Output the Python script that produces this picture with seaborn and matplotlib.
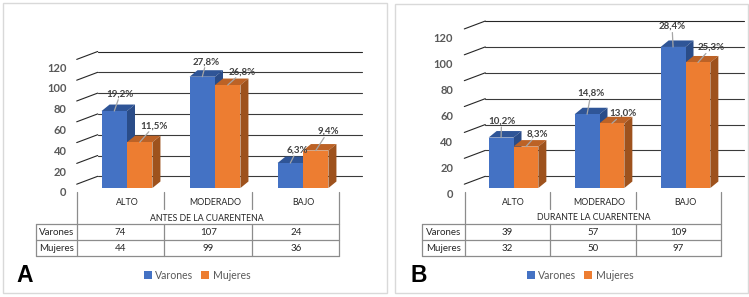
import numpy as np
import pandas as pd
import seaborn as sns
import matplotlib
matplotlib.use("Agg")
import matplotlib.pyplot as plt
from matplotlib.patches import Polygon, Rectangle
from matplotlib.transforms import ScaledTranslation

categories = ["ALTO", "MODERADO", "BAJO"]
series_names = ["Varones", "Mujeres"]
a_varones = [74, 107, 24]
a_mujeres = [44, 99, 36]
a_pct_varones = ["19,2%", "27,8%", "6,3%"]
a_pct_mujeres = ["11,5%", "26,8%", "9,4%"]
a_title = "ANTES DE LA CUARENTENA"
b_varones = [39, 57, 109]
b_mujeres = [32, 50, 97]
b_pct_varones = ["10,2%", "14,8%", "28,4%"]
b_pct_mujeres = ["8,3%", "13,0%", "25,3%"]
b_title = "DURANTE LA CUARENTENA"
y_ticks = [0, 20, 40, 60, 80, 100, 120]

W, H = 749, 297
FONT = "Lato"
sns.set_theme(style="white")
plt.rcParams["font.family"] = [FONT, "DejaVu Sans"]
fig = plt.figure(figsize=(W / 100, H / 100), dpi=100, facecolor="white")
ov = fig.add_axes([0, 0, 1, 1], zorder=0)
ov.set_xlim(0, W); ov.set_ylim(H, 0); ov.axis("off")
top = fig.add_axes([0, 0, 1, 1], zorder=5)
top.set_xlim(0, W); top.set_ylim(H, 0); top.axis("off"); top.patch.set_alpha(0)

BLUE, ORANGE = "#4472C4", "#ED7D31"
SHADE = {0: ("#2F5597", "#2A4C88"), 1: ("#BC6226", "#9E521D")}
LINE = "#8C8C8C"
TXT = "#404040"


def panel(letter, lx, frame, x0, spacing, scale, line_x0, line_dx, back_end, cols,
          tbl_left, title, title_xy, varones, mujeres, pv, pm, offs, leg_x, tick_shift):
    ybase = 188.0
    ax_top = 4.0
    ymax = (ybase - ax_top) / scale
    ax = fig.add_axes([x0 / W, 1 - ybase / H, 3 * spacing / W, (ybase - ax_top) / H], zorder=2)
    ax.patch.set_alpha(0)
    df = pd.DataFrame({
        "nivel": categories * 2,
        "n": list(varones) + list(mujeres),
        "sexo": [series_names[0]] * 3 + [series_names[1]] * 3,
    })
    sns.barplot(data=df, x="nivel", y="n", hue="sexo", order=categories, hue_order=series_names,
                palette=[BLUE, ORANGE], saturation=1, width=0.578, gap=0, ax=ax, legend=False,
                zorder=3, linewidth=0, err_kws={"linewidth": 0})
    ax.set_xlim(-0.5, 2.5); ax.set_ylim(0, ymax)
    ax.set_xlabel(""); ax.set_ylabel("")
    sns.despine(ax=ax, left=True, bottom=True)

    px_x = lambda d: d / spacing
    px_y = lambda d: d / scale
    # frame
    fx0, fy0, fx1, fy1 = frame
    ov.add_patch(Rectangle((fx0, fy0), fx1 - fx0, fy1 - fy0, fc="white", ec="#D9D9D9", lw=1))

    # perspective grid
    fx = (line_x0 - x0) / spacing - 0.5
    bx = fx + px_x(line_dx)
    ex = (back_end - x0) / spacing - 0.5
    front_y = -px_y(ybase - 191.8)
    back_y = px_y(ybase - 176.3)
    for v in y_ticks:
        ax.plot([fx, bx], [front_y + v, back_y + v], color="#262626", lw=0.8, zorder=1, clip_on=False)
        ax.plot([bx, ex], [back_y + v, back_y + v], color="#262626" if v == 120 else "#3A3A3A",
                lw=0.8, zorder=1, clip_on=False)

    # 3-D faces derived from the bars
    ddx, ddy = px_x(8), px_y(6.5)
    for s, cont in enumerate(ax.containers):
        for b in cont:
            l, r, h = b.get_x(), b.get_x() + b.get_width(), b.get_height()
            ax.add_patch(Polygon([(l, h), (l + ddx, h + ddy), (r + ddx, h + ddy), (r, h)],
                                 fc=SHADE[s][0], ec="none", zorder=2 + s * 0.2, clip_on=False))
            ax.add_patch(Polygon([(r, 0), (r, h), (r + ddx, h + ddy), (r + ddx, ddy)],
                                 fc=SHADE[s][1], ec="none", zorder=2.1 + s * 0.2, clip_on=False))

    # data labels with leader lines
    labels = [pv, pm]
    for s, cont in enumerate(ax.containers):
        for i, b in enumerate(cont):
            cx, h = b.get_x() + b.get_width() / 2, b.get_height()
            ox, oy = offs[s][i]
            tx, ty = cx + px_x(ox), h + px_y(oy)
            frac = max(0.0, 1 - 6.0 / oy)
            ax.plot([cx, cx + (tx - cx) * frac], [h, h + (ty - h) * frac], color="#A6A6A6",
                    lw=0.9, zorder=4, clip_on=False)
            ax.text(tx, ty, labels[s][i], ha="center", va="center", fontsize=7.0, color=TXT,
                    fontweight="bold", zorder=6, clip_on=False)

    # axis tick labels
    ax.set_yticks(y_ticks)
    ax.set_yticklabels([str(v) for v in y_ticks], fontsize=8, fontweight="bold", color="#595959")
    ax.tick_params(axis="y", length=0, pad=(x0 - tick_shift[0]) * 0.72)
    ax.set_xticks(range(3))
    ax.set_xticklabels(categories, fontsize=6.4, color="#262626")
    ax.tick_params(axis="x", length=0, pad=0)
    for t in ax.get_yticklabels():
        t.set_transform(t.get_transform() + ScaledTranslation(0, -tick_shift[1] / 100, fig.dpi_scale_trans))
    for t in ax.get_xticklabels():
        t.set_transform(t.get_transform() + ScaledTranslation(0, -10 / 100, fig.dpi_scale_trans))

    # data table
    c0, c1, c2, c3 = cols
    for x in (c0, c3):
        ov.plot([x, x], [192, 256.3], color=LINE, lw=0.9)
    for x in (c1, c2):
        ov.plot([x, x], [192, 208.5], color=LINE, lw=0.9)
        ov.plot([x, x], [224.3, 256.3], color=LINE, lw=0.9)
    ov.plot([tbl_left, tbl_left], [224.3, 256.3], color=LINE, lw=0.9)
    for y in (224.3, 240.3, 256.3):
        ov.plot([tbl_left, c3], [y, y], color=LINE, lw=0.9)
    top.text(title_xy[0], title_xy[1], title, ha="center", va="center", fontsize=6.3, color="#262626")
    centers = [(c0 + c1) / 2, (c1 + c2) / 2, (c2 + c3) / 2]
    for y, name, vals in ((232.3, series_names[0], varones), (248.3, series_names[1], mujeres)):
        top.text((tbl_left + c0) / 2, y, name, ha="center", va="center", fontsize=7.0, color="#262626")
        for cx, v in zip(centers, vals):
            top.text(cx, y, str(v), ha="center", va="center", fontsize=7.0, color="#262626")

    # legend and panel letter
    fig.legend(handles=[ax.containers[0][0], ax.containers[1][0]], labels=series_names, loc="center",
               bbox_to_anchor=(leg_x / W, 1 - 275.5 / H), ncol=2, frameon=False, fontsize=7.6,
               labelcolor="#595959", handlelength=0.75, handleheight=0.75, handletextpad=0.3,
               columnspacing=0.8, borderpad=0)
    top.text(lx, 276, letter, fontsize=16.5, fontweight="bold", color="black", ha="left", va="center",
             family="Liberation Sans")


panel("A", 16.5, (3, 3, 387, 293), 83.0, 88.0, 1.04, 76.7, 21, 361.7,
      (76.7, 164.3, 252.3, 339.3), 35.7, a_title, (207.3, 218.7), a_varones, a_mujeres,
      a_pct_varones, a_pct_mujeres,
      [[(6, 17.3), (4, 15), (6.6, 13)], [(14.3, 16.5), (14.7, 13.3), (12.3, 19)]], 197, (66.7, 4))
panel("B", 410, (395, 4, 748, 293), 470.5, 86.0, 1.294, 464.3, 21, 744,
      (464.7, 549.7, 635.7, 721.3), 422.3, b_title, (593.3, 217.7), b_varones, b_mujeres,
      b_pct_varones, b_pct_mujeres,
      [[(0.5, 16.5), (3.9, 20.7), (-1, 20.4)], [(11.3, 12.4), (11.3, 10), (13.3, 15)]], 580, (453.3, 5))

fig.savefig("out.png", dpi=100, facecolor="white")
